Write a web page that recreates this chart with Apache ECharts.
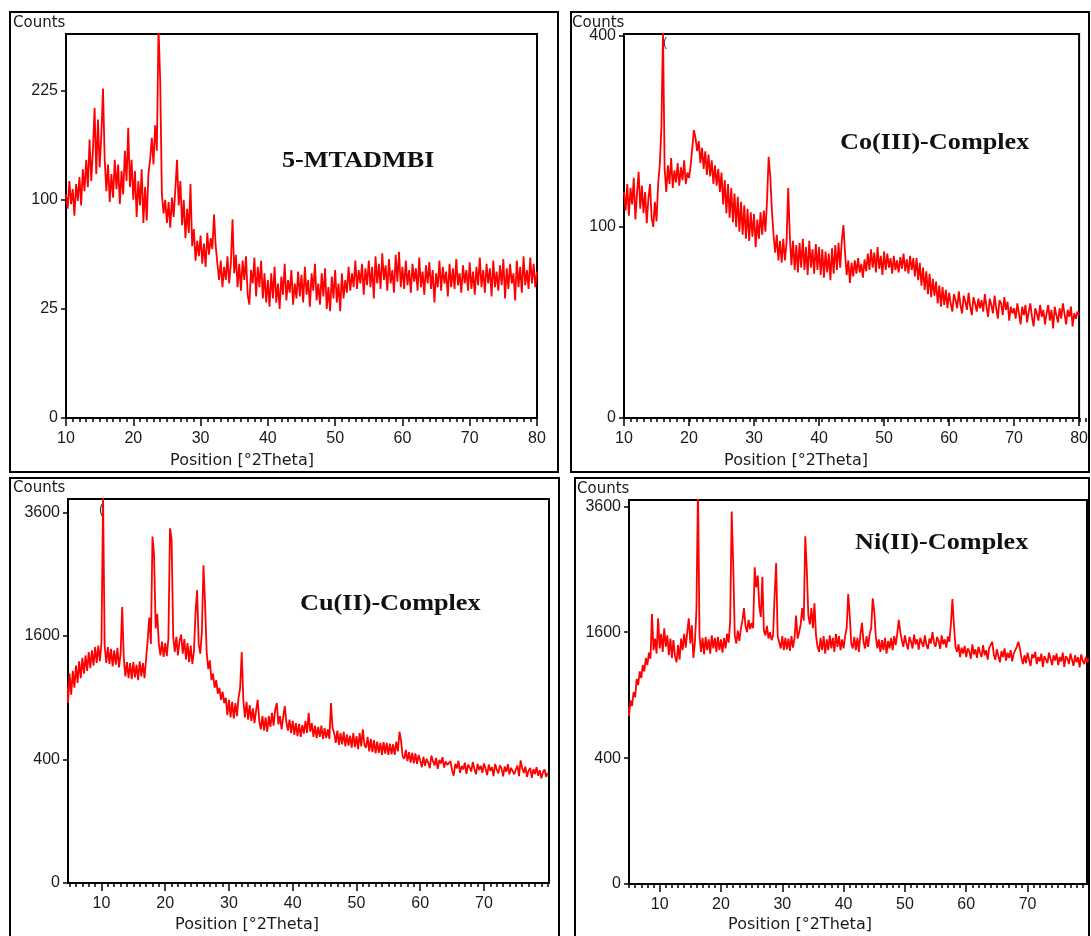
<!DOCTYPE html>
<html>
<head>
<meta charset="utf-8">
<title>XRD patterns</title>
<script src="https://cdn.jsdelivr.net/npm/echarts@6.0.0/dist/echarts.min.js"></script>
<style>
  html, body { margin: 0; padding: 0; background: #fff; }
  #main { width: 1091px; height: 936px; }
</style>
</head>
<body>
<div id="main"></div>
<script>
// counts, one value every 0.25 deg 2theta
var stepDeg = 0.25;

var mtadmbiStart = 10;
var mtadmbiCounts = [
  105,92,118,96,110,86,115,99,122,95,130,108,140,112,163,118,150,202,125,187,
  132,168,228,140,108,135,98,125,102,140,110,135,96,128,105,150,118,177,112,140,
  100,128,85,118,95,130,80,112,82,125,140,165,135,180,150,320,240,105,88,100,
  80,98,76,102,85,110,140,95,118,78,100,68,92,72,115,62,75,52,66,55,
  70,50,64,48,72,56,68,60,87,62,50,40,52,36,48,40,55,38,50,83,
  44,56,36,50,34,52,40,55,32,27,46,38,54,31,48,36,52,30,44,28,
  40,26,44,30,48,28,38,25,42,32,50,29,40,33,46,27,38,30,45,31,
  43,28,48,32,40,26,44,34,50,29,38,27,44,31,47,25,36,24,42,30,
  46,28,38,24,44,30,40,33,48,34,44,36,52,35,46,38,50,32,47,37,
  52,36,48,30,55,38,50,35,57,40,49,34,53,38,46,33,56,39,58,36,
  48,35,52,37,46,33,50,39,47,34,54,36,45,32,49,38,51,35,46,28,
  44,36,52,34,48,38,45,31,50,36,47,35,53,37,44,33,49,38,46,34,
  51,35,45,32,48,37,54,36,46,33,50,38,47,31,52,36,45,34,49,37,
  53,30,47,35,50,38,44,29,52,36,48,33,55,37,46,35,54,38,50,36,
  45
];

var coStart = 10;
var coCounts = [
  140,118,150,112,145,125,158,108,138,166,120,148,115,140,104,132,150,110,100,128,
  106,150,175,231,410,170,140,175,150,185,145,168,152,178,148,172,155,182,150,165,
  158,175,200,227,215,195,210,178,200,170,195,162,190,160,182,150,175,148,170,140,
  165,125,155,115,150,110,145,105,138,100,134,95,128,92,124,88,120,86,116,90,
  114,80,108,88,116,92,118,95,130,187,160,118,92,75,92,68,86,66,88,68,
  84,145,92,64,86,60,82,58,84,62,88,60,80,56,86,62,78,57,83,60,
  80,56,78,54,76,58,74,52,79,57,82,60,84,62,86,102,74,56,68,50,
  66,55,68,57,70,58,65,54,69,59,74,60,78,62,75,58,80,61,72,56,
  76,60,74,62,70,57,72,60,68,58,71,61,74,59,69,57,72,60,70,55,
  70,52,66,48,62,45,59,42,57,40,53,41,51,36,48,34,47,35,45,33,
  43,36,31,42,38,33,44,35,30,41,37,32,43,34,29,40,36,31,39,33,
  38,31,42,34,28,39,35,30,41,33,27,38,36,29,40,32,37,26,34,30,
  33,27,36,30,24,34,29,35,25,31,36,28,23,33,30,26,35,28,32,24,
  30,35,26,32,22,34,29,25,33,27,36,30,24,32,28,34,23,30,27,31,
  29
];

var cuStart = 4.5;
var cuCounts = [
  1060,850,1150,930,1180,1000,1240,1050,1290,1100,1330,1150,1360,1180,1400,1210,1420,1240,1460,1270,
  1480,1290,1520,3900,1480,1270,1460,1260,1440,1230,1420,1250,1450,1220,1380,2000,1330,1120,1280,1100,
  1270,1090,1280,1110,1250,1080,1290,1120,1270,1100,1320,1550,1850,1500,3150,2820,1700,1900,1500,1360,
  1530,1340,1510,1350,1570,3300,3100,1600,1400,1590,1360,1540,1620,1380,1560,1310,1510,1280,1480,1260,
  1400,1900,2250,1500,1380,1650,2650,2050,1400,1200,1300,1080,1150,1000,1080,940,1000,880,960,850,
  900,740,880,720,860,710,850,730,900,1000,1400,880,720,860,700,830,690,800,670,780,
  880,690,620,730,610,720,600,730,640,760,650,790,850,660,730,620,720,820,680,610,
  700,590,690,575,670,565,665,560,655,585,690,590,760,600,670,560,650,550,640,560,
  650,545,630,550,620,545,850,630,590,515,610,500,590,505,600,490,580,495,570,480,
  590,485,565,470,590,490,620,500,480,560,455,545,450,535,440,525,445,515,430,520,
  440,515,430,510,435,505,430,525,455,600,530,420,405,465,390,450,380,445,376,440,
  372,430,395,352,418,360,405,380,346,425,390,362,410,342,398,375,415,350,388,366,
  355,390,332,302,372,345,392,318,360,338,380,312,368,350,326,385,340,310,372,335,
  360,318,375,342,305,368,330,352,300,372,338,315,362,345,298,356,325,370,310,348,
  352,310,338,362,300,395,345,318,356,296,330,348,290,340,312,352,302,334,288,322,
  338,296,318
];

var niStart = 4.5;
var niCounts = [
  720,800,710,850,800,930,880,1060,1000,1140,1070,1210,1140,1290,1210,1350,1280,1840,1380,1520,
  1340,1780,1400,1580,1360,1650,1420,1560,1320,1520,1290,1500,1310,1240,1440,1270,1520,1380,1580,1410,
  1600,1780,1460,1690,1290,1470,1900,4000,1560,1360,1530,1330,1540,1380,1510,1340,1560,1400,1530,1360,
  1540,1380,1510,1350,1530,1400,1580,1470,1740,3500,2580,1560,1460,1620,1490,1650,1750,1920,1680,1600,
  1760,1640,1720,1650,2530,2220,2400,1950,1800,2380,1620,1560,1680,1520,1600,1500,1560,2100,2600,1550,
  1530,1400,1550,1380,1530,1390,1520,1370,1550,1410,1530,1820,1520,1600,1700,1920,1750,3050,2500,1820,
  1700,1920,1650,1990,1560,1420,1360,1530,1380,1550,1340,1510,1380,1560,1400,1530,1360,1580,1420,1550,
  1380,1510,1400,1550,1650,2120,1820,1460,1400,1540,1380,1530,1360,1580,1720,1480,1400,1550,1420,1580,
  1650,2060,1880,1550,1400,1510,1360,1500,1380,1530,1340,1490,1400,1530,1380,1550,1440,1580,1760,1600,
  1500,1420,1560,1460,1390,1540,1480,1400,1570,1450,1510,1385,1530,1470,1420,1560,1440,1395,1520,1460,
  1600,1470,1420,1540,1490,1395,1560,1450,1510,1410,1545,1480,1700,2050,1690,1420,1360,1450,1300,1410,
  1340,1430,1300,1400,1365,1280,1450,1330,1390,1290,1420,1350,1300,1440,1320,1380,1270,1410,1400,1480,
  1330,1270,1390,1310,1240,1370,1300,1400,1260,1350,1290,1380,1250,1340,1380,1420,1480,1400,1290,1220,
  1320,1230,1350,1270,1200,1330,1290,1360,1220,1300,1250,1340,1190,1310,1270,1230,1350,1280,1210,1320,
  1260,1340,1210,1300,1250,1350,1190,1310,1280,1220,1340,1270,1200,1320,1240,1300,1185,1330,1260,1220,
  1300,1240,1280
];

// tick labels
var xTicksTop = [10, 20, 30, 40, 50, 60, 70, 80];
var xTicksBottom = [10, 20, 30, 40, 50, 60, 70];
var yTicksMtadmbi = [0, 25, 100, 225];
var yTicksCo = [0, 100, 400];
var yTicksCu = [0, 400, 1600, 3600];
var yTicksNi = [0, 400, 1600, 3600];

var panels = [
  { title: '5-MTADMBI', counts: mtadmbiCounts, start: mtadmbiStart, xTicks: xTicksTop, yTicks: yTicksMtadmbi,
    left: 66, top: 34, width: 471, height: 384, xMin: 10, xMax: 80, yMax: 17.6,
    box: [10, 12, 548, 460], countsAt: [13, 23], posAt: [242, 461], titleAt: [282, 161] },
  { title: 'Co(III)-Complex', counts: coCounts, start: coStart, xTicks: xTicksTop, yTicks: yTicksCo,
    left: 624, top: 34, width: 462, height: 384, xMin: 10, xMax: 80, yMax: 20.1,
    box: [571, 12, 518, 460], countsAt: [572, 23], posAt: [796, 461], titleAt: [840, 143] },
  { title: 'Cu(II)-Complex', counts: cuCounts, start: cuStart, xTicks: xTicksBottom, yTicks: yTicksCu,
    left: 68, top: 499, width: 481, height: 384, xMin: 4.75, xMax: 80.2, yMax: 62.2,
    box: [10, 478, 549, 470], countsAt: [13, 488], posAt: [247, 925], titleAt: [300, 604] },
  { title: 'Ni(II)-Complex', counts: niCounts, start: niStart, xTicks: xTicksBottom, yTicks: yTicksNi,
    left: 629, top: 500, width: 458, height: 384, xMin: 5, xMax: 79.7, yMax: 61,
    box: [575, 478, 514, 470], countsAt: [577, 489], posAt: [800, 925], titleAt: [855, 543] }
];

var labelFont = { color: '#1a1a1a', fontFamily: 'Liberation Sans', fontSize: 16 };

var grids = [], xAxes = [], yAxes = [], series = [], graphics = [];

panels.forEach(function (p, k) {
  var rect = { left: p.left, top: p.top, width: p.width, height: p.height };
  grids.push(Object.assign({ show: true, borderColor: '#000', borderWidth: 2, backgroundColor: 'transparent' }, rect));

  xAxes.push({
    type: 'value', gridIndex: k, min: p.xMin, max: p.xMax,
    axisLine: { show: true, onZero: false, lineStyle: { color: '#000', width: 2 } },
    axisTick: { show: true, length: 8, customValues: p.xTicks, lineStyle: { color: '#000', width: 1.5 } },
    axisLabel: Object.assign({ customValues: p.xTicks, margin: 13 }, labelFont),
    splitLine: { show: false }
  });

  var ySqrt = p.yTicks.map(Math.sqrt);
  yAxes.push({
    type: 'value', gridIndex: k, min: 0, max: p.yMax,
    axisLine: { show: true, onZero: false, lineStyle: { color: '#000', width: 2 } },
    axisTick: { show: true, length: 5, customValues: ySqrt, lineStyle: { color: '#000', width: 1.5 } },
    axisLabel: Object.assign({
      customValues: ySqrt, margin: 8,
      formatter: function (v) { return String(Math.round(v * v)); }
    }, labelFont),
    splitLine: { show: false }
  });

  series.push({
    type: 'line', xAxisIndex: k, yAxisIndex: k,
    data: p.counts.map(function (c, i) { return [p.start + i * stepDeg, Math.sqrt(c)]; }),
    showSymbol: false, symbol: 'none', clip: true, silent: true,
    lineStyle: { color: '#ff0000', width: 1.8 }
  });

  graphics.push({
    type: 'rect', shape: { x: p.box[0], y: p.box[1], width: p.box[2], height: p.box[3] },
    style: { fill: 'none', stroke: '#000', lineWidth: 2 }
  });
  graphics.push({
    type: 'text', x: p.countsAt[0], y: p.countsAt[1],
    style: { text: 'Counts', fill: '#1a1a1a', fontFamily: 'DejaVu Sans', fontSize: 15,
             textAlign: 'left', textVerticalAlign: 'middle' }
  });
  graphics.push({
    type: 'text', x: p.posAt[0], y: p.posAt[1],
    style: { text: 'Position [°2Theta]', fill: '#1a1a1a', fontFamily: 'DejaVu Sans', fontSize: 16,
             textAlign: 'center', textVerticalAlign: 'middle' }
  });
  graphics.push({
    type: 'text', x: p.titleAt[0], y: p.titleAt[1], scaleX: 1.14,
    style: { text: p.title, fill: '#111', fontFamily: 'Liberation Serif', fontWeight: 'bold', fontSize: 23,
             textAlign: 'left', textVerticalAlign: 'middle' }
  });
});

// minor ticks every degree, on overlay grids at the same place
panels.forEach(function (p, k) {
  var minor = [];
  for (var d = Math.ceil(p.xMin); d <= Math.floor(p.xMax); d++) minor.push(d);
  grids.push({ show: false, left: p.left, top: p.top, width: p.width, height: p.height });
  xAxes.push({
    type: 'value', gridIndex: 4 + k, min: p.xMin, max: p.xMax,
    axisLine: { show: false, onZero: false },
    axisTick: { show: true, length: 4, customValues: minor, lineStyle: { color: '#000', width: 1.5 } },
    axisLabel: { show: false }, splitLine: { show: false }
  });
  yAxes.push({ type: 'value', gridIndex: 4 + k, min: 0, max: p.yMax, show: false });
});

// small dark marks near the top of two plots
graphics.push({ type: 'text', x: 663, y: 43, style: { text: '(', fill: '#333', fontSize: 12, textVerticalAlign: 'middle' } });
graphics.push({ type: 'text', x: 99, y: 510, style: { text: '(', fill: '#333', fontSize: 14, textVerticalAlign: 'middle' } });

var chart = echarts.init(document.getElementById('main'));
chart.setOption({
  animation: false,
  backgroundColor: '#fff',
  grid: grids,
  xAxis: xAxes,
  yAxis: yAxes,
  series: series,
  graphic: graphics
});
window.addEventListener('resize', function () { chart.resize(); });
</script>
</body>
</html>
